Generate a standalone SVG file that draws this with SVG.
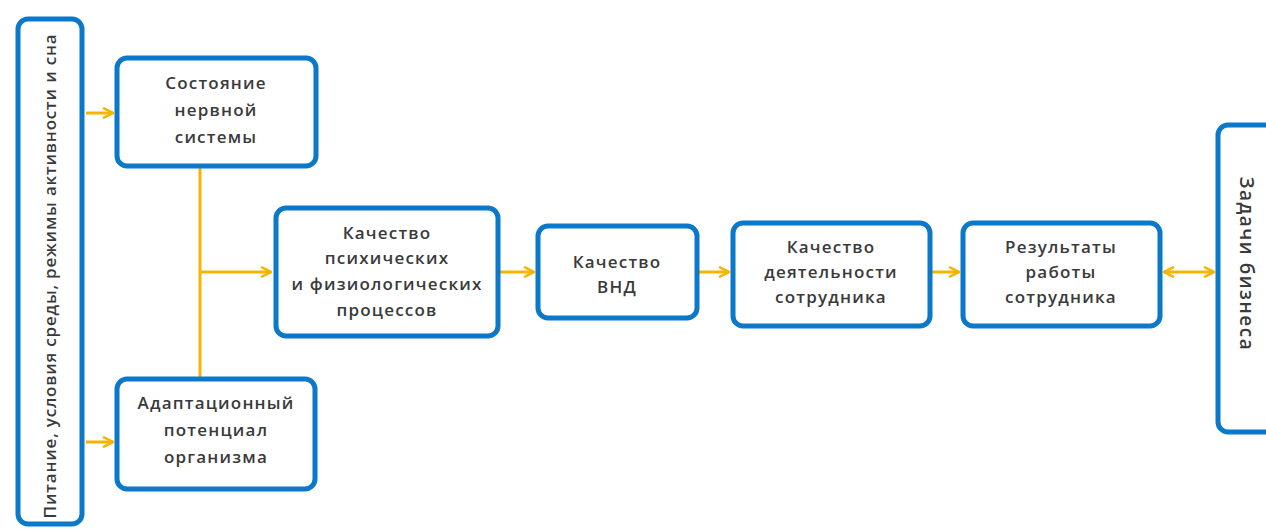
<svg xmlns="http://www.w3.org/2000/svg" width="1266" height="530" viewBox="0 0 1266 530">
<defs>
<marker id="ah" viewBox="0 0 12 12" refX="11" refY="6" markerWidth="12" markerHeight="12" markerUnits="userSpaceOnUse" orient="auto-start-reverse">
<path d="M1,1 L11,6 L1,11" fill="none" stroke="#f5b400" stroke-width="2.5" stroke-linejoin="miter"/>
</marker>
<style>
.box{fill:#fff;stroke:#0b78c9;stroke-width:5}
.t{font-family:"Open Sans","Noto Sans",sans-serif;font-size:17px;letter-spacing:1.2px;font-weight:600;fill:#3a3a3a;text-anchor:middle}
.c{fill:none;stroke:#f5b400;stroke-width:3}
</style>
</defs>
<g id="connectors">
<line class="c" x1="86" y1="113" x2="113" y2="113" marker-end="url(#ah)"/>
<line class="c" x1="86" y1="442" x2="113" y2="442" marker-end="url(#ah)"/>
<line class="c" x1="200" y1="168" x2="200" y2="377"/>
<line class="c" x1="200" y1="272" x2="271" y2="272" marker-end="url(#ah)"/>
<line class="c" x1="500" y1="272" x2="534" y2="272" marker-end="url(#ah)"/>
<line class="c" x1="699" y1="272" x2="729" y2="272" marker-end="url(#ah)"/>
<line class="c" x1="932" y1="272" x2="959" y2="272" marker-end="url(#ah)"/>
<line class="c" x1="1164" y1="272" x2="1214" y2="272" marker-start="url(#ah)" marker-end="url(#ah)"/>
</g>
<g id="left">
<rect class="box" x="18" y="19" width="64" height="505" rx="10"/>
<text class="t" transform="translate(56,276) rotate(-90)" style="letter-spacing:0.8px">Питание, условия среды, режимы активности и сна</text>
</g>
<g id="n1">
<rect class="box" x="117" y="58" width="199" height="108" rx="10"/>
<text class="t" x="216" y="89">Состояние</text>
<text class="t" x="216" y="116">нервной</text>
<text class="t" x="216" y="143">системы</text>
</g>
<g id="n2">
<rect class="box" x="117" y="379" width="198" height="110" rx="10"/>
<text class="t" x="216" y="409">Адаптационный</text>
<text class="t" x="216" y="436">потенциал</text>
<text class="t" x="216" y="463">организма</text>
</g>
<g id="n3">
<rect class="box" x="276" y="208" width="222" height="128" rx="10"/>
<text class="t" x="387" y="239">Качество</text>
<text class="t" x="387" y="264">психических</text>
<text class="t" x="387" y="290">и физиологических</text>
<text class="t" x="387" y="316">процессов</text>
</g>
<g id="n4">
<rect class="box" x="538" y="226" width="159" height="92" rx="10"/>
<text class="t" x="617" y="268">Качество</text>
<text class="t" x="617" y="293">ВНД</text>
</g>
<g id="n5">
<rect class="box" x="733" y="223" width="197" height="103" rx="10"/>
<text class="t" x="831" y="253">Качество</text>
<text class="t" x="831" y="278">деятельности</text>
<text class="t" x="831" y="303">сотрудника</text>
</g>
<g id="n6">
<rect class="box" x="963" y="223" width="197" height="103" rx="10"/>
<text class="t" x="1061" y="253">Результаты</text>
<text class="t" x="1061" y="278">работы</text>
<text class="t" x="1061" y="303">сотрудника</text>
</g>
<g id="right">
<rect class="box" x="1218" y="125" width="70" height="307" rx="10"/>
<text class="t" transform="translate(1240,264) rotate(90)" style="font-size:19px;letter-spacing:1.5px">Задачи бизнеса</text>
</g>
</svg>
